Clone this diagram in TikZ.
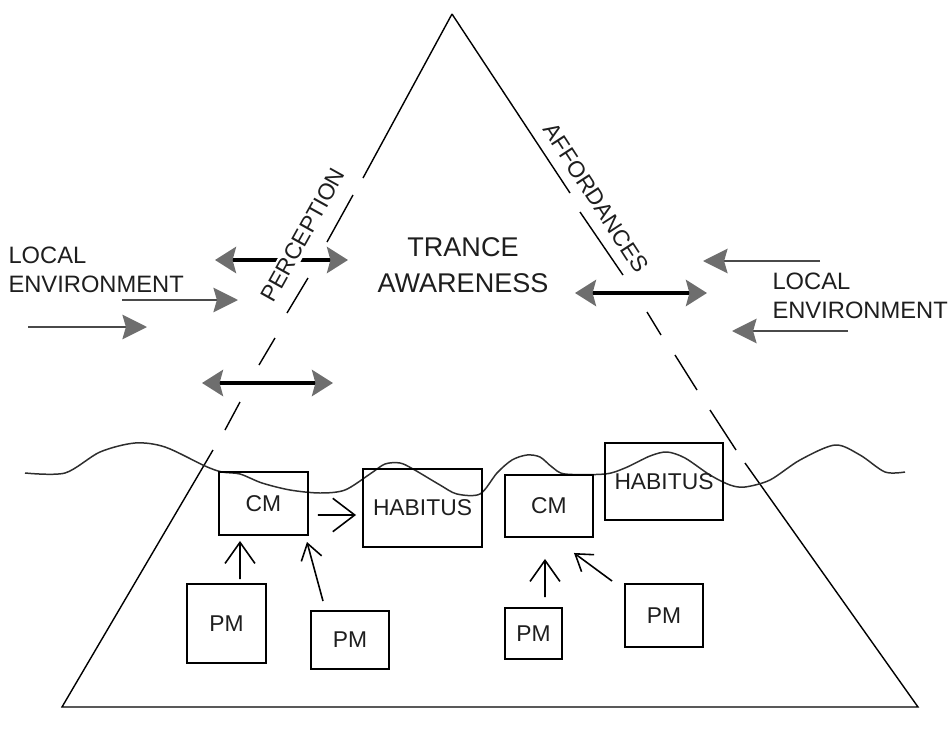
\documentclass[tikz,border=0pt]{standalone}
\usepackage{fontspec}
\setmainfont{Liberation Sans}
\usepackage{tikz}
\usetikzlibrary{arrows.meta}
\usetikzlibrary{calc}
\definecolor{headgray}{HTML}{6E6E6E}
\definecolor{shaftgray}{HTML}{4A4A4A}
\definecolor{wavegray}{HTML}{2E2E2E}
\definecolor{inkgray}{HTML}{1E1E1E}
\newcommand{\smallfont}{\fontsize{13}{16.5}\selectfont}
\newcommand{\envfont}{\fontsize{13.5}{16.5}\selectfont}
\newcommand{\bigfont}{\fontsize{15.4}{20.5}\selectfont}

\begin{document}
\begin{tikzpicture}[x=0.02cm, y=-0.02cm, semithick]
  \tikzstyle{side}=[line width=0.8pt]
  \tikzstyle{box}=[draw, line width=1.1pt, inner sep=0pt, text=inkgray, font=\smallfont]
  \tikzstyle{lbl}=[inner sep=0pt, text=inkgray, font=\smallfont]
  \tikzstyle{push}=[-{Straight Barb[length=12pt,width=17pt]}, line width=0.9pt]
  \tikzstyle{nudge}=[-{Straight Barb[length=9pt,width=12pt]}, line width=0.9pt]
  \tikzstyle{both}=[{Stealth[length=12pt,width=15pt,inset=2pt,color=headgray]}-{Stealth[length=12pt,width=15pt,inset=2pt,color=headgray]}, line width=1.8pt]
  \tikzstyle{inflow}=[-{Stealth[length=14pt,width=14pt,inset=2pt,color=headgray]}, line width=1.1pt, draw=shaftgray]

  \useasboundingbox (0,0) rectangle (948,734);

  % grey arrows
  \draw[both] (215,260) -- (348,260);
  \draw[both] (202,383) -- (333,383);
  \draw[both] (575,293) -- (707,293);
  \draw[inflow] (122,300) -- (238,300);
  \draw[inflow] (28,327) -- (147,327);
  \draw[inflow] (820,261) -- (703,261);
  \draw[inflow] (848,331) -- (732,331);

  % labels
  \node[lbl, align=left, anchor=west, font=\envfont] (envL) at (8,270) {LOCAL\\ENVIRONMENT};
  \node[lbl, align=left, anchor=west, font=\envfont] (envR) at (772,295.5) {LOCAL\\ENVIRONMENT};
  \node[lbl, align=center, font=\bigfont] (trance) at (463,265.5) {TRANCE\\AWARENESS};
  \node[lbl, rotate=60.9, fill=white, inner sep=1.5pt] (percep) at (303,235) {PERCEPTION};
  \node[lbl, rotate=-57] (afford) at (596,198) {AFFORDANCES};

  % the pyramid
  \coordinate (apex) at (452,14);
  \coordinate (bl) at (62,707);
  \coordinate (br) at (918,707);
  \draw[side] (apex) -- (363,178);
  \draw[side] (apex) -- (570,193);
  \foreach \xa/\ya/\xb/\yb in {353/195/327/242, 308/278/287/313, 275/338/259/365, 240/402/225/430,
                               580/212/623/275, 647/312/661/335, 675/355/697/390, 710/410/736/450}
    \draw[side] (\xa,\ya) -- (\xb,\yb);
  \draw[side] (213,450) -- (bl) -- (br) -- (745,463);

  % water line
  \draw[wavegray, line width=0.85pt] plot[smooth, tension=0.5] coordinates {
    (25,473) (65,473) (100,452) (135,443) (165,447) (205,466) (222,472) (240,474)
    (262,483) (290,490) (320,493) (345,490) (370,474) (385,464) (400,463) (413,469)
    (440,485) (457,494) (480,494) (497,473) (512,460) (527,455) (540,457) (552,467)
    (565,474) (605,474) (625,468) (650,456) (667,452) (685,458) (710,475) (730,485)
    (745,487) (770,480) (800,460) (835,445) (860,455) (885,472) (905,472)};

  % boxes
  \node[box, minimum width=1.78cm, minimum height=1.26cm] (cm1) at (263.5,503.5) {CM};
  \node[box, minimum width=2.38cm, minimum height=1.56cm] (hab1) at (422.5,508) {HABITUS};
  \node[box, minimum width=1.76cm, minimum height=1.24cm] (cm2) at (549,506) {CM};
  \node[box, minimum width=2.36cm, minimum height=1.54cm] (hab2) at (664,481.5) {HABITUS};
  \node[box, minimum width=1.58cm, minimum height=1.58cm] (pm1) at (226.5,623.5) {PM};
  \node[box, minimum width=1.56cm, minimum height=1.16cm] (pm2) at (350,640) {PM};
  \node[box, minimum width=1.14cm, minimum height=1.02cm] (pm3) at (533.5,633.5) {PM};
  \node[box, minimum width=1.56cm, minimum height=1.26cm] (pm4) at (664,615.5) {PM};

  % thin arrows between the boxes
  \draw[push, -{Straight Barb[length=12.5pt,width=19pt]}] ($(cm1.east)+(9,11.5)$) -- ($(hab1.west)+(-6,7)$);
  \draw[push] ($(pm1.north)+(13.5,-4)$) -- ($(cm1.south)+(-23.5,5)$);
  \draw[nudge] ($(pm2.north)+(-27,-9)$) -- ($(cm1.south east)+(-2,6)$);
  \draw[push] ($(pm3.north)+(11.5,-10)$) -- ($(cm2.south)+(-4,21)$);
  \draw[nudge] ($(pm4.north west)+(-12,-2)$) -- ($(cm2.south east)+(-20,15)$);
\end{tikzpicture}
\end{document}
